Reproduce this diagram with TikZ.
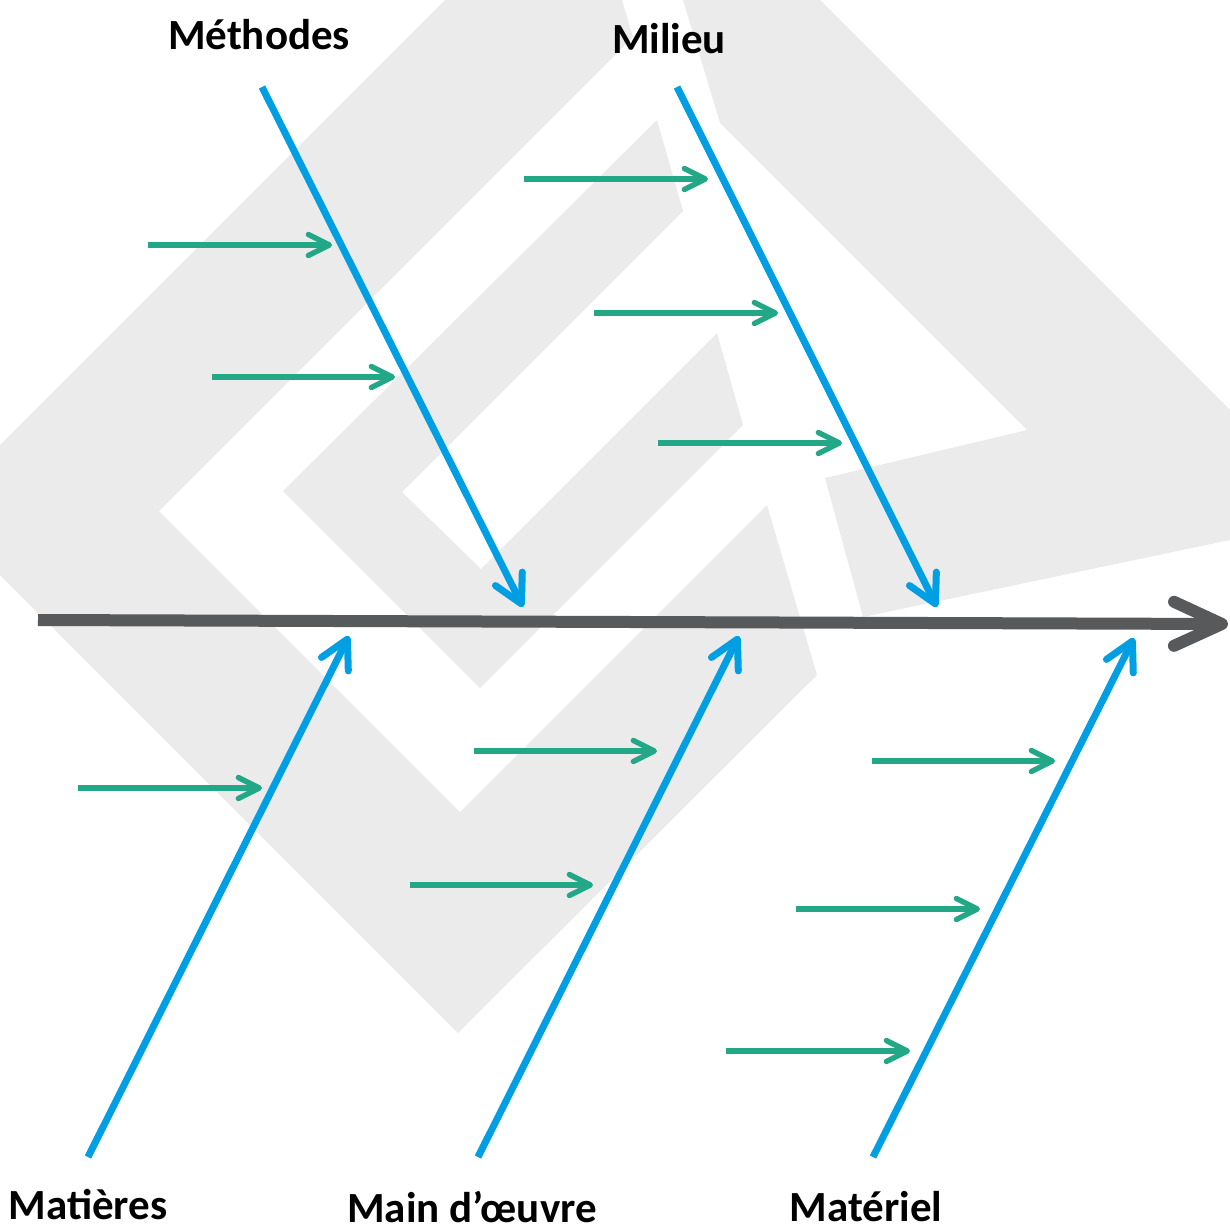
\documentclass[tikz,border=0pt]{standalone}
\usepackage{fontspec}
\setmainfont{Carlito}
\usetikzlibrary{arrows.meta}
\definecolor{bggrey}{HTML}{EBEBEB}
\definecolor{boneblue}{HTML}{009FE3}
\definecolor{subgreen}{HTML}{22A887}
\definecolor{spinegrey}{HTML}{58595B}
\begin{document}
\begin{tikzpicture}[x=0.5pt,y=-0.5pt,
  bg/.style={fill=bggrey, draw=none},
  spine/.style={draw=spinegrey, line width=6pt, -{Straight Barb[length=24pt,width=22pt,round]}},
  bone/.style={draw=boneblue, line width=3.5pt, -{Straight Barb[length=14pt,width=15pt,round]}},
  cause/.style={draw=subgreen, line width=2.7pt, -{Straight Barb[length=10.5pt,width=10.5pt,round]}},
  lbl/.style={font=\fontsize{21.5}{24}\selectfont\bfseries, text=black, inner sep=0pt, anchor=base}
]
\useasboundingbox (0,0) rectangle (1230,1231);
% background decoration
\begin{scope}
\clip (0,0) rectangle (1230,1231);
\fill[bg] (445,0) -- (-65,510) -- (458,1033) -- (817,675) -- (767,505) -- (460,812) -- (159,511) -- (633,37) -- (622,0) -- cycle;
\fill[bg] (657,120) -- (283,491) -- (480,688) -- (743,425) -- (717,333) -- (481,569) -- (402,492) -- (683,211) -- cycle;
\fill[bg] (683,0) -- (820,0) -- (1230,410) -- (1230,540) -- (863,617) -- (825,478) -- (1027,430) -- (720,123) -- cycle;
\end{scope}
% spine
\coordinate (spineL) at (38,620);
\coordinate (spineR) at (1228,624);
\draw[spine] (spineL) -- (spineR);
% main bones
\coordinate (metS) at (262,87);   \coordinate (metE) at (523,607);
\coordinate (milS) at (677,87);   \coordinate (milE) at (937,607);
\coordinate (matS) at (88,1157);  \coordinate (matE) at (349,636);
\coordinate (maiS) at (478,1157); \coordinate (maiE) at (739,636);
\coordinate (mtlS) at (873,1157); \coordinate (mtlE) at (1134,638);
\draw[bone] (metS) -- (metE);
\draw[bone] (milS) -- (milE);
\draw[bone] (matS) -- (matE);
\draw[bone] (maiS) -- (maiE);
\draw[bone] (mtlS) -- (mtlE);
% causes
\coordinate (c1s) at (148,245);  \coordinate (c1e) at (332,245);
\coordinate (c2s) at (212,377);  \coordinate (c2e) at (395,377);
\coordinate (c3s) at (524,179);  \coordinate (c3e) at (708,179);
\coordinate (c4s) at (594,313);  \coordinate (c4e) at (778,313);
\coordinate (c5s) at (658,443);  \coordinate (c5e) at (842,443);
\coordinate (c6s) at (78,788);   \coordinate (c6e) at (262,788);
\coordinate (c7s) at (474,751);  \coordinate (c7e) at (657,751);
\coordinate (c8s) at (410,885);  \coordinate (c8e) at (593,885);
\coordinate (c9s) at (872,761);  \coordinate (c9e) at (1055,761);
\coordinate (c10s) at (796,909); \coordinate (c10e) at (980,909);
\coordinate (c11s) at (726,1051);\coordinate (c11e) at (910,1051);
\foreach \i in {1,...,11} {\draw[cause] (c\i s) -- (c\i e);}
% labels
\node[lbl] (methodes) at (259,49) {Méthodes};
\node[lbl] (milieu) at (669,54) {Milieu};
\node[lbl] (matieres) at (88,1219) {Matières};
\node[lbl] (maindoeuvre) at (472,1222) {Main d’œuvre};
\node[lbl] (materiel) at (866,1221) {Matériel};
\end{tikzpicture}
\end{document}
